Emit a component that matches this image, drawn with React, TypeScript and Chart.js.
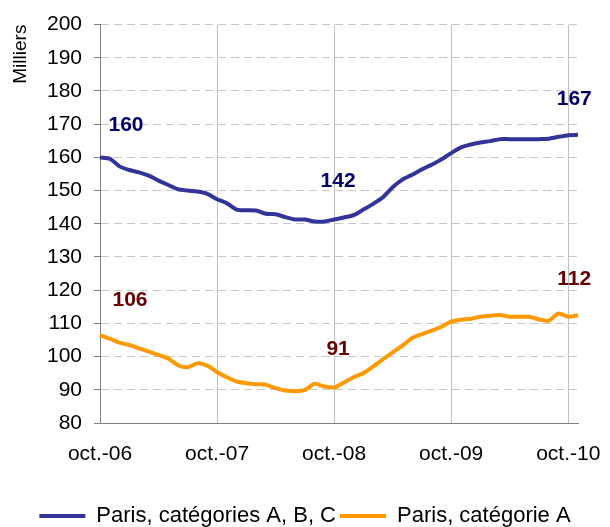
import React, { useEffect, useRef } from "react";
import { Chart, registerables } from "chart.js";

Chart.register(...registerables);

const CATEGORIES = [
  "oct.-06", "nov.-06", "déc.-06", "janv.-07", "févr.-07", "mars-07", "avr.-07", "mai-07", "juin-07", "juil.-07", "août-07", "sept.-07",
  "oct.-07", "nov.-07", "déc.-07", "janv.-08", "févr.-08", "mars-08", "avr.-08", "mai-08", "juin-08", "juil.-08", "août-08", "sept.-08",
  "oct.-08", "nov.-08", "déc.-08", "janv.-09", "févr.-09", "mars-09", "avr.-09", "mai-09", "juin-09", "juil.-09", "août-09", "sept.-09",
  "oct.-09", "nov.-09", "déc.-09", "janv.-10", "févr.-10", "mars-10", "avr.-10", "mai-10", "juin-10", "juil.-10", "août-10", "sept.-10",
  "oct.-10", "nov.-10",
];

const TICK_LABELS = ["oct.-06", "oct.-07", "oct.-08", "oct.-09", "oct.-10"];

const SERIES_ABC_LABEL = "Paris, catégories A, B, C";
const SERIES_A_LABEL = "Paris, catégorie A";
const Y_TITLE = "Milliers";

const SERIES_ABC = [
  160, 159.6, 157.3, 156.2, 155.5, 154.5, 153, 151.7, 150.4, 150, 149.7, 149,
  147.4, 146.2, 144.3, 144.1, 144, 143, 142.9, 142, 141.3, 141.3, 140.7, 140.7,
  141.3, 141.9, 142.6, 144.3, 146, 148, 151, 153.3, 154.8, 156.4, 157.8, 159.4,
  161.3, 163, 163.9, 164.5, 164.9, 165.5, 165.5, 165.5, 165.5, 165.5, 165.6, 166.2,
  166.7, 166.8,
];

const SERIES_A = [
  106.5, 105.4, 104.2, 103.5, 102.5, 101.5, 100.5, 99.4, 97.4, 96.8, 98, 97.3,
  95.3, 93.8, 92.5, 92, 91.7, 91.5, 90.5, 89.8, 89.6, 90, 91.8, 91,
  90.7, 92.2, 93.8, 95, 97, 99.2, 101.3, 103.3, 105.6, 106.8, 107.8, 109,
  110.5, 111.1, 111.4, 112, 112.3, 112.5, 112, 112, 112, 111.2, 110.8, 113,
  112, 112.5,
];

const Y_MIN = 80;
const Y_MAX = 200;
const Y_STEP = 10;

// callouts: dataset index, point index, text
const CALLOUT_DATASET = [0, 0, 0, 1, 1, 1];
const CALLOUT_INDEX = [0, 24, 48, 0, 24, 48];
const CALLOUT_TEXT = ["160", "142", "167", "106", "91", "112"];

const FONT = '"Liberation Sans", Arial, Helvetica, sans-serif';

export default function App() {
  const ref = useRef<HTMLCanvasElement | null>(null);

  useEffect(() => {
    if (!ref.current) return;
    const calloutOffsets = [
      [26, -32], [4, -38], [6, -36],
      [30, -35], [4, -38], [6, -38],
    ];
    const calloutColors = ["#000066", "#660000"];

    const calloutPlugin = {
      id: "callouts",
      afterDatasetsDraw(chart: any) {
        const { ctx } = chart;
        const xs = chart.scales.x;
        const ys = chart.scales.y;
        ctx.save();
        ctx.font = `bold 21px ${FONT}`;
        ctx.textAlign = "center";
        ctx.textBaseline = "middle";
        CALLOUT_TEXT.forEach((t, i) => {
          const ds = CALLOUT_DATASET[i];
          const idx = CALLOUT_INDEX[i];
          const v = chart.data.datasets[ds].data[idx];
          const px = xs.getPixelForValue(idx);
          const py = ys.getPixelForValue(v);
          ctx.fillStyle = calloutColors[ds];
          ctx.fillText(t, px + calloutOffsets[i][0], py + calloutOffsets[i][1]);
        });
        ctx.restore();
      },
    };

    // center the legend on the full canvas width rather than the padded area
    const legendWidthPlugin = {
      id: "legendFullWidth",
      afterLayout(chart: any) {
        const lg = chart.legend;
        if (lg) {
          lg.left = 0;
          lg.right = chart.width;
          lg.width = chart.width;
        }
      },
    };

    const chart = new Chart(ref.current, {
      type: "line",
      data: {
        labels: CATEGORIES,
        datasets: [
          {
            label: SERIES_ABC_LABEL,
            data: SERIES_ABC,
            borderColor: "#333399",
            backgroundColor: "#333399",
            borderWidth: 4,
            pointRadius: 0,
            tension: 0.25,
            fill: false,
          },
          {
            label: SERIES_A_LABEL,
            data: SERIES_A,
            borderColor: "#FF9900",
            backgroundColor: "#FF9900",
            borderWidth: 4,
            pointRadius: 0,
            tension: 0.25,
            fill: false,
          },
        ],
      },
      options: {
        animation: false,
        responsive: false,
        maintainAspectRatio: false,
        layout: { padding: { left: 0, right: 32, top: 20, bottom: 0 } },
        plugins: {
          legend: {
            position: "bottom",
            labels: {
              usePointStyle: true,
              pointStyle: "line",
              pointStyleWidth: 46,
              boxHeight: 4,
              padding: 4,
              color: "#000",
              font: { family: FONT, size: 22 },
            },
          },
          tooltip: { enabled: false },
        },
        scales: {
          x: {
            type: "category",
            offset: false,
            afterFit(scale: any) {
              scale.height = 78;
            },
            grid: {
              color: (c: any) =>
                c.tick && TICK_LABELS.includes(CATEGORIES[c.index]) ? "#c0c0c0" : "rgba(0,0,0,0)",
              lineWidth: 1,
              drawTicks: false,
            },
            border: { display: true, color: "#808080", width: 1 },
            ticks: {
              autoSkip: false,
              maxRotation: 0,
              minRotation: 0,
              padding: 19,
              color: "#000",
              font: { family: FONT, size: 21 },
              callback: (_v: any, i: number) =>
                TICK_LABELS.includes(CATEGORIES[i]) ? CATEGORIES[i] : "",
            },
          },
          y: {
            min: Y_MIN,
            max: Y_MAX,
            afterFit(scale: any) {
              scale.width = 100;
            },
            ticks: {
              stepSize: Y_STEP,
              padding: 12,
              color: "#000",
              font: { family: FONT, size: 21 },
            },
            grid: {
              color: "#c8c8c8",
              lineWidth: 1,
              tickLength: 6,
              tickColor: "#808080",
              tickBorderDash: [],
            },
            border: { display: true, color: "#808080", width: 1, dash: [8, 5] },
            title: {
              display: true,
              text: Y_TITLE,
              align: "end",
              color: "#000",
              font: { family: FONT, size: 19 },
              padding: { top: 9, bottom: 0 },
            },
          },
        },
      },
      plugins: [calloutPlugin, legendWidthPlugin],
    } as any);
    return () => chart.destroy();
  }, []);

  return (
    <div style={{ position: "fixed", left: 0, top: 0, width: 610, height: 537, background: "#fff" }}>
      <canvas ref={ref} width={610} height={537} style={{ width: 610, height: 537, display: "block" }} />
    </div>
  );
}
